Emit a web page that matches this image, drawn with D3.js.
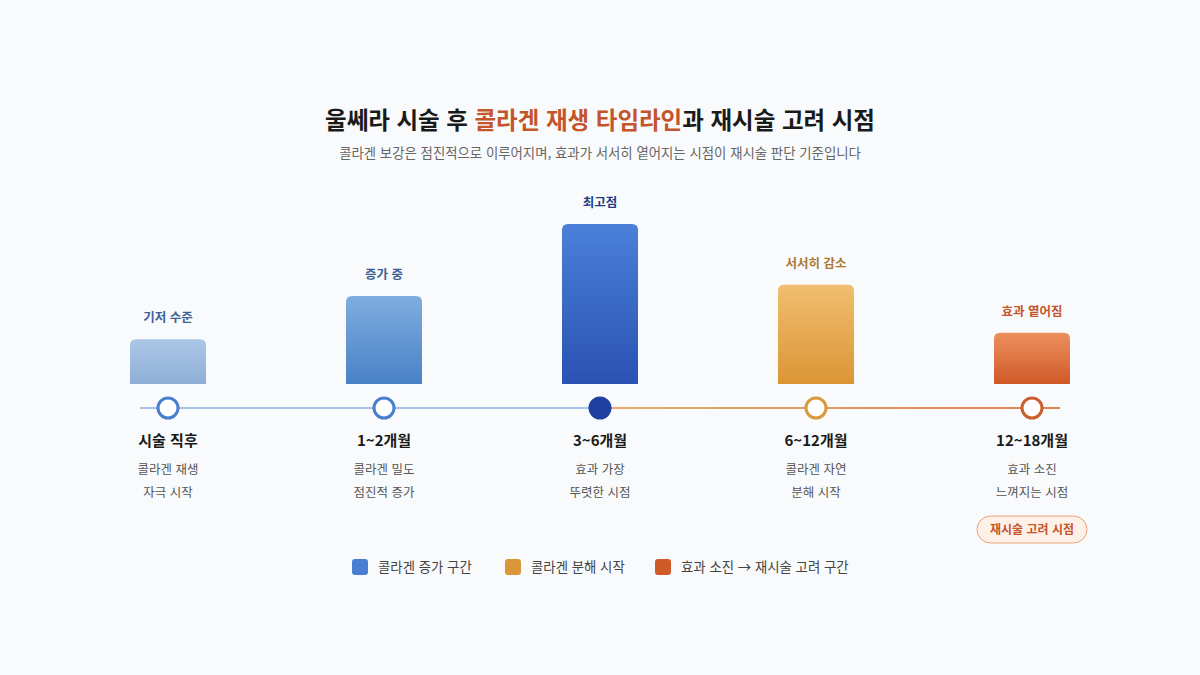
<!DOCTYPE html>
<html lang="ko">
<head>
<meta charset="utf-8">
<script src="https://cdn.jsdelivr.net/npm/d3@7"></script>
<style>
  html, body { margin: 0; padding: 0; background: #f9fafb; }
  body { width: 1200px; height: 675px; overflow: hidden; font-family: "Noto Sans CJK KR", "Noto Sans", sans-serif; }
</style>
</head>
<body>
<div id="chart"></div>
<script>
/* ---------- data ---------- */
const stages = ['시술 직후', '1~2개월', '3~6개월', '6~12개월', '12~18개월'];
const collagen = [28, 55, 100, 62, 32];
const barLabels = ['기저 수준', '증가 중', '최고점', '서서히 감소', '효과 옅어짐'];
const descLines = [
  ['콜라겐 재생', '자극 시작'],
  ['콜라겐 밀도', '점진적 증가'],
  ['효과 가장', '뚜렷한 시점'],
  ['콜라겐 자연', '분해 시작'],
  ['효과 소진', '느껴지는 시점']
];
const phase = ['up', 'up', 'peak', 'down', 'end'];
const legendItems = ['콜라겐 증가 구간', '콜라겐 분해 시작', '효과 소진 → 재시술 고려 구간'];

/* ---------- styles ---------- */
const W = 1200, H = 675;
const baseY = 384, lineY = 408;
const barGrad = [
  ['#abc7e6', '#8eafd6'],
  ['#7eaddf', '#4a82c8'],
  ['#4b80d9', '#2a52b2'],
  ['#f0be70', '#db9535'],
  ['#ed8f5e', '#d05a28']
];
const labelColor = ['#3d5f96', '#3d5f96', '#1f3d87', '#a97932', '#c4552b'];
const ringColor = ['#4a7fcf', '#4a7fcf', '#1e40a0', '#d89a3c', '#c9602e'];
const legendColor = ['#4a7fd4', '#d9973a', '#d05a28'];

const svg = d3.select('#chart').append('svg')
  .attr('width', W).attr('height', H)
  .attr('viewBox', `0 0 ${W} ${H}`);

const defs = svg.append('defs');
barGrad.forEach((c, i) => {
  const g = defs.append('linearGradient').attr('id', 'bg' + i)
    .attr('x1', 0).attr('y1', 0).attr('x2', 0).attr('y2', 1);
  g.append('stop').attr('offset', '0%').attr('stop-color', c[0]);
  g.append('stop').attr('offset', '100%').attr('stop-color', c[1]);
});
const lg = defs.append('linearGradient').attr('id', 'lineGrad')
  .attr('gradientUnits', 'userSpaceOnUse').attr('x1', 140).attr('x2', 1060).attr('y1', 0).attr('y2', 0);
lg.append('stop').attr('offset', '0%').attr('stop-color', '#a8c2e6');
lg.append('stop').attr('offset', '50%').attr('stop-color', '#a8c2e6');
lg.append('stop').attr('offset', '50%').attr('stop-color', '#e8ac6c');
lg.append('stop').attr('offset', '100%').attr('stop-color', '#dc8452');

/* ---------- title ---------- */
const title = svg.append('text')
  .attr('x', W / 2).attr('y', 129)
  .attr('text-anchor', 'middle')
  .attr('font-size', 23.5).attr('font-weight', 700)
  .attr('fill', '#1a1a1a');
title.append('tspan').text('울쎄라 시술 후 ');
title.append('tspan').attr('fill', '#c4552b').text('콜라겐 재생 타임라인');
title.append('tspan').text('과 재시술 고려 시점');

svg.append('text')
  .attr('x', W / 2).attr('y', 158)
  .attr('text-anchor', 'middle')
  .attr('font-size', 13.4).attr('fill', '#666')
  .text('콜라겐 보강은 점진적으로 이루어지며, 효과가 서서히 옅어지는 시점이 재시술 판단 기준입니다');

/* ---------- scales ---------- */
const x = d3.scalePoint().domain(stages).range([168, 1032]);
const y = d3.scaleLinear().domain([0, 100]).range([baseY, 224]);
const barW = 76, r = 6;

function topRounded(x0, y0, w, h, rr) {
  return `M${x0},${y0 + h} V${y0 + rr} Q${x0},${y0} ${x0 + rr},${y0} H${x0 + w - rr} Q${x0 + w},${y0} ${x0 + w},${y0 + rr} V${y0 + h} Z`;
}

/* ---------- bars ---------- */
svg.append('g').selectAll('path').data(stages).join('path')
  .attr('d', (d, i) => topRounded(x(d) - barW / 2, y(collagen[i]), barW, baseY - y(collagen[i]), r))
  .attr('fill', (d, i) => `url(#bg${i})`);

svg.append('g').selectAll('text').data(stages).join('text')
  .attr('x', d => x(d))
  .attr('y', (d, i) => y(collagen[i]) - 17)
  .attr('text-anchor', 'middle')
  .attr('font-size', 12.5).attr('font-weight', 700)
  .attr('fill', (d, i) => labelColor[i])
  .text((d, i) => barLabels[i]);

/* ---------- timeline ---------- */
svg.append('line')
  .attr('x1', 140).attr('x2', 1060)
  .attr('y1', lineY).attr('y2', lineY)
  .attr('stroke', 'url(#lineGrad)').attr('stroke-width', 2);

svg.append('g').selectAll('circle').data(stages).join('circle')
  .attr('cx', d => x(d)).attr('cy', lineY).attr('r', 10)
  .attr('fill', (d, i) => phase[i] === 'peak' ? ringColor[i] : '#fff')
  .attr('stroke', (d, i) => ringColor[i])
  .attr('stroke-width', 3);

svg.append('g').selectAll('text').data(stages).join('text')
  .attr('x', d => x(d)).attr('y', 446)
  .attr('text-anchor', 'middle')
  .attr('font-size', 15).attr('font-weight', 700)
  .attr('fill', '#1a1a1a')
  .text(d => d);

const desc = svg.append('g').selectAll('g').data(stages).join('g');
desc.each(function (d, i) {
  d3.select(this).selectAll('text').data(descLines[i]).join('text')
    .attr('x', x(d)).attr('y', (t, j) => 474 + j * 23)
    .attr('text-anchor', 'middle')
    .attr('font-size', 12.5).attr('fill', '#555')
    .text(t => t);
});

/* ---------- badge ---------- */
const badge = svg.append('g').attr('transform', `translate(${x(stages[4])},529)`);
badge.append('rect')
  .attr('x', -55).attr('y', -13).attr('width', 110).attr('height', 27).attr('rx', 13.5)
  .attr('fill', '#fdf0e7').attr('stroke', '#eba27c').attr('stroke-width', 1);
badge.append('text')
  .attr('y', 4.5).attr('text-anchor', 'middle')
  .attr('font-size', 12).attr('font-weight', 700).attr('fill', '#c4552b')
  .text('재시술 고려 시점');

/* ---------- legend ---------- */
const legendX = [352, 505, 655];
const leg = svg.append('g').selectAll('g').data(legendItems).join('g')
  .attr('transform', (d, i) => `translate(${legendX[i]},559)`);
leg.append('rect').attr('width', 16).attr('height', 16).attr('rx', 3)
  .attr('fill', (d, i) => legendColor[i]);
leg.append('text').attr('x', 26).attr('y', 13)
  .attr('font-size', 13.4).attr('fill', '#444')
  .text(d => d);
</script>
</body>
</html>
